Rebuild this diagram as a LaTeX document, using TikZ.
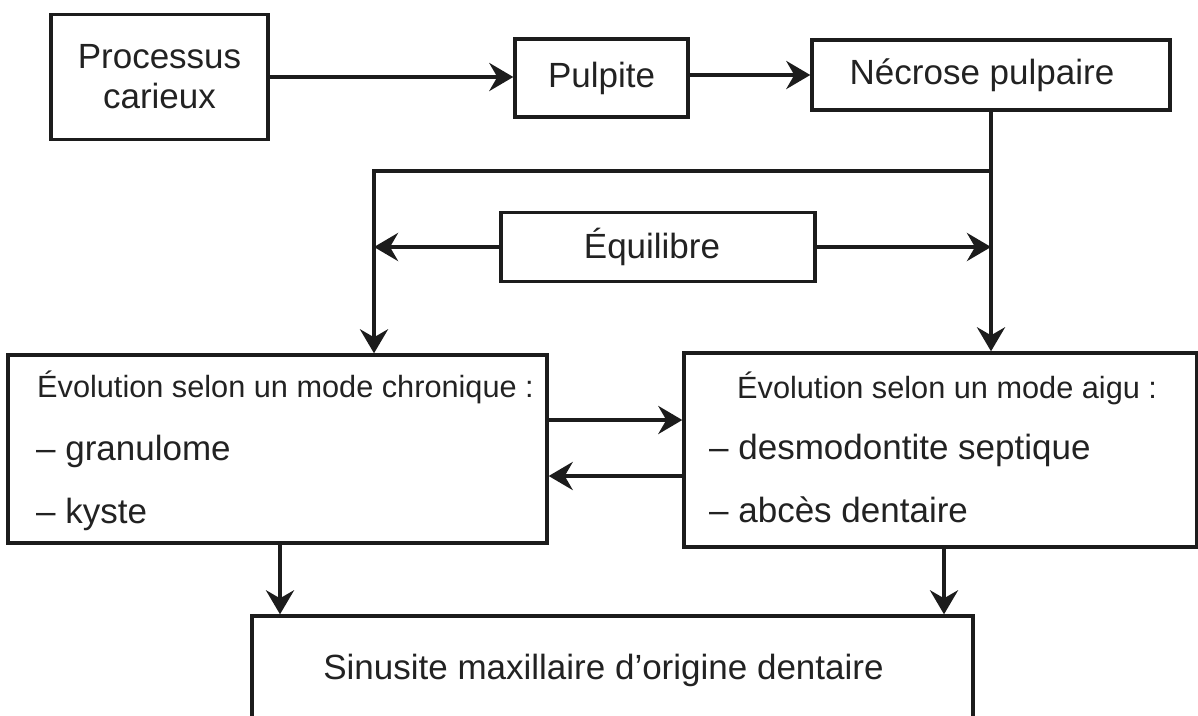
\documentclass[tikz,border=0pt]{standalone}
\usepackage{fontspec}
\setmainfont{Liberation Sans}
\usetikzlibrary{arrows.meta}
\definecolor{ink}{HTML}{1C1C1C}
\definecolor{txt}{HTML}{222222}
\begin{document}
\begin{tikzpicture}[x=1pt,y=-1pt,
  box/.style={draw=ink, line width=3.4pt, inner sep=0pt},
  conn/.style={draw=ink, line width=4.4pt},
  arr/.style={conn, -{Stealth[length=24pt,width=28pt,inset=8pt]}},
  big/.style={font=\fontsize{35}{40}\selectfont, text=txt},
  small/.style={font=\fontsize{30.7}{36}\selectfont, text=txt},
  line/.style={anchor=base west, inner sep=0pt}]
\useasboundingbox (0,0) rectangle (1198,715);
\clip (0,0) rectangle (1198,715);

% boxes
\node[box, big, align=center, minimum width=217pt, minimum height=125pt] (proc) at (159.5,77) {Processus\\carieux};
\node[box, big, minimum width=173pt, minimum height=78pt] (pulp) at (601.5,78) {Pulpite};
\node[box, big, minimum width=358pt, minimum height=70pt] (nec) at (991,75) {\hspace*{-18pt}Nécrose pulpaire};
\node[box, big, minimum width=314pt, minimum height=69pt] (equi) at (658,247) {\hspace*{-12pt}Équilibre};
\node[box, minimum width=539pt, minimum height=188pt] (chro) at (277.5,449) {};
\node[box, minimum width=513pt, minimum height=194pt] (aigu) at (940.5,450) {};
\node[box, big, minimum width=721pt, minimum height=108pt] (sinus) at (612.5,670) {\hspace*{-18pt}Sinusite maxillaire d’origine dentaire};

% texts inside the two evolution boxes
\node[small, line] (chro1) at (37,397) {Évolution selon un mode chronique :};
\node[big, line] (chro2) at (36,460) {– granulome};
\node[big, line] (chro3) at (36,523) {– kyste};
\node[small, line] (aigu1) at (737,398) {Évolution selon un mode aigu :};
\node[big, line] (aigu2) at (709,459) {– desmodontite septique};
\node[big, line] (aigu3) at (709,522) {– abcès dentaire};

% junctions
\coordinate (jr) at (991,171);
\coordinate (jl) at (374,171);
\coordinate (up) at (0,420);
\coordinate (lo) at (0,476);
\coordinate (dl) at (280,0);
\coordinate (dr) at (944,0);

% connectors
\draw[arr] (proc.east) -- (proc.east -| pulp.west);
\draw[arr] (nec.west -| pulp.east) -- (nec.west);
\draw[arr] (nec.south) -- (nec.south |- aigu.north);
\draw[arr] (jr) -- (jl) -- (jl |- chro.north);
\draw[arr] (equi.west) -- (equi.west -| jl);
\draw[arr] (equi.east) -- (equi.east -| jr);
\draw[arr] (up -| chro.east) -- (up -| aigu.west);
\draw[arr] (lo -| aigu.west) -- (lo -| chro.east);
\draw[arr] (chro.south -| dl) -- (sinus.north -| dl);
\draw[arr] (aigu.south -| dr) -- (sinus.north -| dr);
\end{tikzpicture}
\end{document}
